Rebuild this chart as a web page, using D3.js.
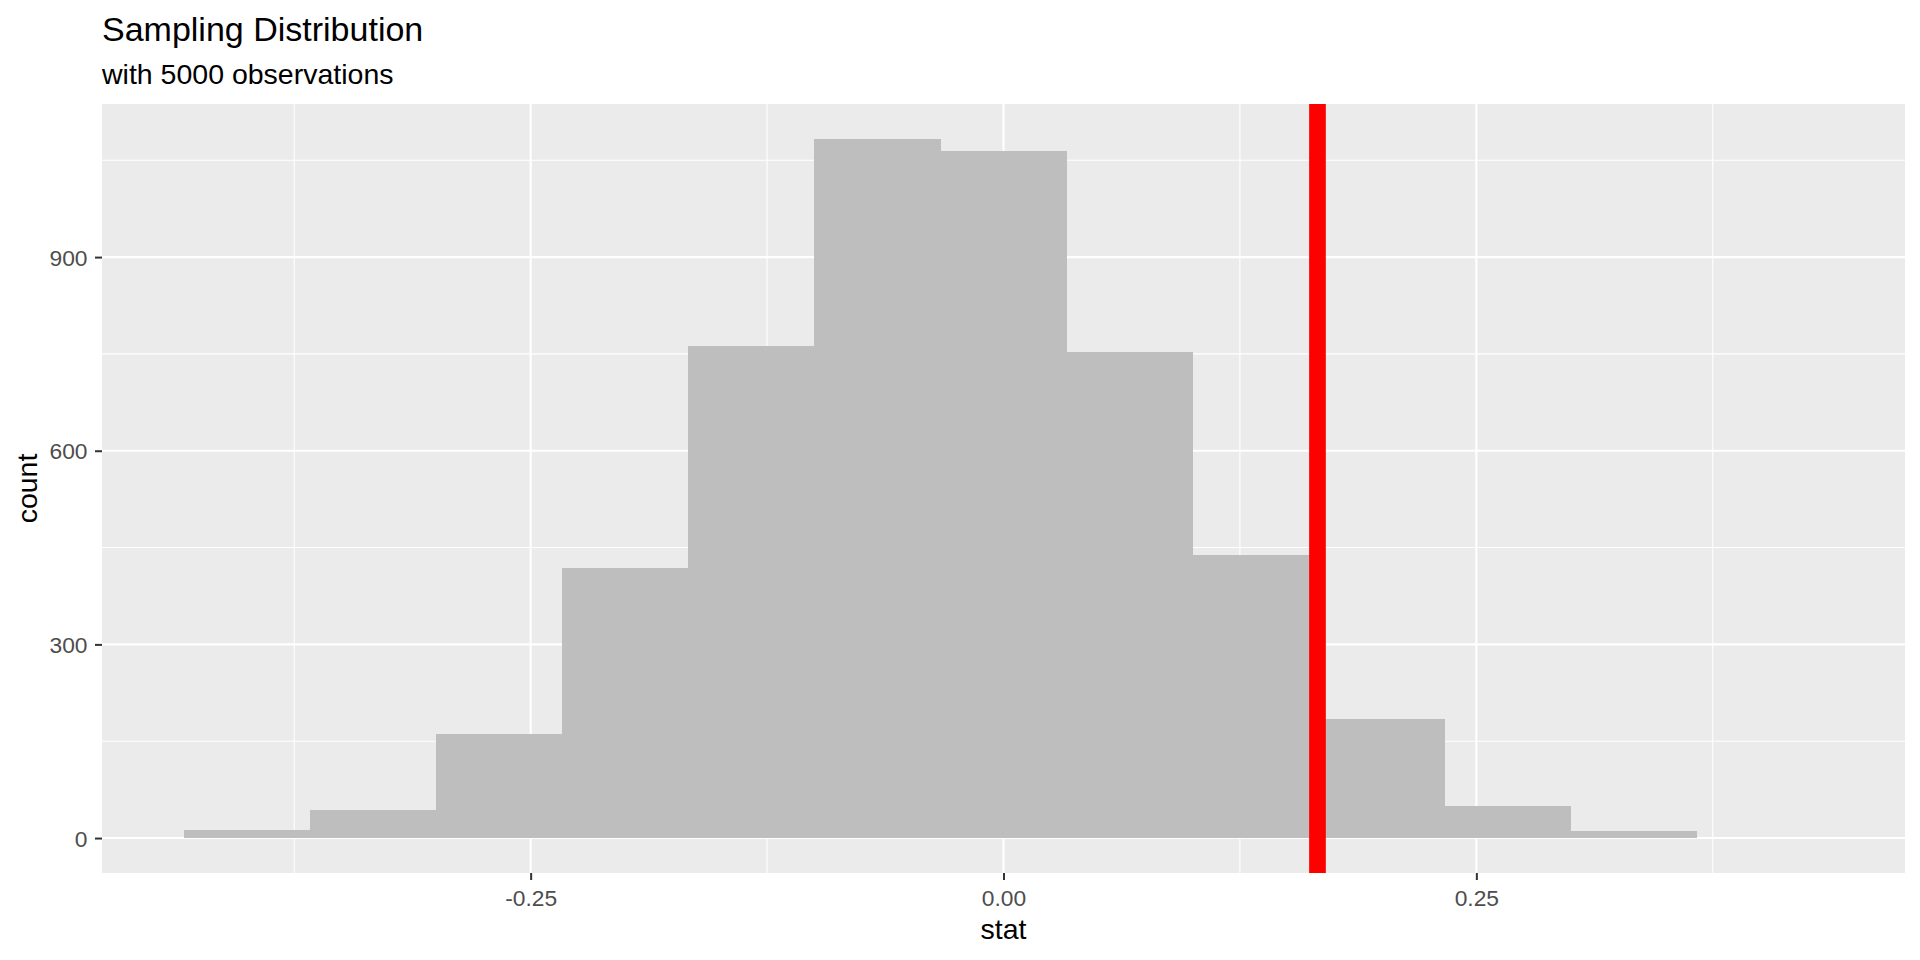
<!DOCTYPE html>
<html>
<head>
<meta charset="utf-8">
<script src="https://cdn.jsdelivr.net/npm/d3@7"></script>
<style>
  html, body { margin: 0; padding: 0; background: #ffffff; }
  svg { display: block; }
  text { font-family: "Liberation Sans", Arial, Helvetica, sans-serif; }
</style>
</head>
<body>
<svg id="chart" width="1920" height="960"></svg>
<script>
// ---- data ----
const binCenters = [-0.4, -0.3333, -0.2667, -0.2, -0.1333, -0.0667, 0, 0.0667, 0.1333, 0.2, 0.2667, 0.3333];
const binCounts  = [12, 43, 161, 419, 762, 1083, 1065, 753, 438, 185, 50, 11];
const binWidth = 1 / 15;
const obsStat = 0.166;
const xMajorTicks = [-0.25, 0, 0.25];
const xTickLabels = ["-0.25", "0.00", "0.25"];
const xMinorTicks = [-0.375, -0.125, 0.125, 0.375];
const yMajorTicks = [0, 300, 600, 900];
const yTickLabels = ["0", "300", "600", "900"];
const yMinorTicks = [150, 450, 750, 1050];
const titleText = "Sampling Distribution";
const subtitleText = "with 5000 observations";
const xTitle = "stat";
const yTitle = "count";

// ---- layout ----
const panel = { left: 102, right: 1905, top: 104, bottom: 873 };
const svg = d3.select("#chart");

const xExtent = 0.4333 * 1.1;
const x = d3.scaleLinear().domain([-xExtent, xExtent]).range([panel.left, panel.right]);
const yMax = d3.max(binCounts);
const y = d3.scaleLinear().domain([-0.05 * yMax, 1.05 * yMax]).range([panel.bottom, panel.top]);

// panel background
svg.append("rect")
  .attr("x", panel.left).attr("y", panel.top)
  .attr("width", panel.right - panel.left).attr("height", panel.bottom - panel.top)
  .attr("fill", "#EBEBEB");

const grid = svg.append("g");
// minor grid
grid.selectAll("line.xminor").data(xMinorTicks).enter().append("line")
  .attr("x1", d => x(d)).attr("x2", d => x(d))
  .attr("y1", panel.top).attr("y2", panel.bottom)
  .attr("stroke", "#ffffff").attr("stroke-width", 1.1);
grid.selectAll("line.yminor").data(yMinorTicks).enter().append("line")
  .attr("y1", d => y(d)).attr("y2", d => y(d))
  .attr("x1", panel.left).attr("x2", panel.right)
  .attr("stroke", "#ffffff").attr("stroke-width", 1.1);
// major grid
grid.selectAll("line.xmajor").data(xMajorTicks).enter().append("line")
  .attr("x1", d => x(d)).attr("x2", d => x(d))
  .attr("y1", panel.top).attr("y2", panel.bottom)
  .attr("stroke", "#ffffff").attr("stroke-width", 2.1);
grid.selectAll("line.ymajor").data(yMajorTicks).enter().append("line")
  .attr("y1", d => y(d)).attr("y2", d => y(d))
  .attr("x1", panel.left).attr("x2", panel.right)
  .attr("stroke", "#ffffff").attr("stroke-width", 2.1);

// bars
svg.append("g").attr("shape-rendering", "crispEdges")
  .selectAll("rect").data(binCenters.map((c, i) => ({ c, n: binCounts[i] })))
  .enter().append("rect")
  .attr("x", d => x(d.c - binWidth / 2))
  .attr("width", d => x(d.c + binWidth / 2) - x(d.c - binWidth / 2) + 0.5)
  .attr("y", d => y(d.n))
  .attr("height", d => y(0) - y(d.n))
  .attr("fill", "#BEBEBE");

// observed statistic line
svg.append("line")
  .attr("x1", x(obsStat)).attr("x2", x(obsStat))
  .attr("y1", panel.top).attr("y2", panel.bottom)
  .attr("stroke", "#FF0000").attr("stroke-width", 16.7);

// x axis
const xAxis = d3.axisBottom(x).tickValues(xMajorTicks).tickSize(7).tickFormat((d, i) => xTickLabels[i]);
const gx = svg.append("g").attr("transform", `translate(0,${panel.bottom})`).call(xAxis);
gx.select(".domain").remove();
gx.selectAll(".tick line").attr("stroke", "#333333").attr("stroke-width", 2);
gx.selectAll(".tick text")
  .attr("y", 33).attr("dy", 0)
  .attr("fill", "#4D4D4D").style("font-size", "22.8px")
  .style("font-family", '"Liberation Sans", Arial, sans-serif');

// y axis
const yAxis = d3.axisLeft(y).tickValues(yMajorTicks).tickSize(7).tickFormat((d, i) => yTickLabels[i]);
const gy = svg.append("g").attr("transform", `translate(${panel.left},0)`).call(yAxis);
gy.select(".domain").remove();
gy.selectAll(".tick line").attr("stroke", "#333333").attr("stroke-width", 2);
gy.selectAll(".tick text")
  .attr("x", -14.5).attr("dy", "0.36em")
  .attr("fill", "#4D4D4D").style("font-size", "22.8px")
  .style("font-family", '"Liberation Sans", Arial, sans-serif');

// titles
svg.append("text").attr("x", panel.left).attr("y", 41)
  .attr("fill", "#000000").style("font-size", "34px").text(titleText);
svg.append("text").attr("x", panel.left).attr("y", 84)
  .attr("fill", "#000000").style("font-size", "28.5px").text(subtitleText);

// axis titles
svg.append("text").attr("x", (panel.left + panel.right) / 2).attr("y", 939)
  .attr("text-anchor", "middle").attr("fill", "#000000").style("font-size", "28.5px").text(xTitle);
svg.append("text")
  .attr("transform", `translate(37,${(panel.top + panel.bottom) / 2}) rotate(-90)`)
  .attr("text-anchor", "middle").attr("fill", "#000000").style("font-size", "28.5px").text(yTitle);
</script>
</body>
</html>
